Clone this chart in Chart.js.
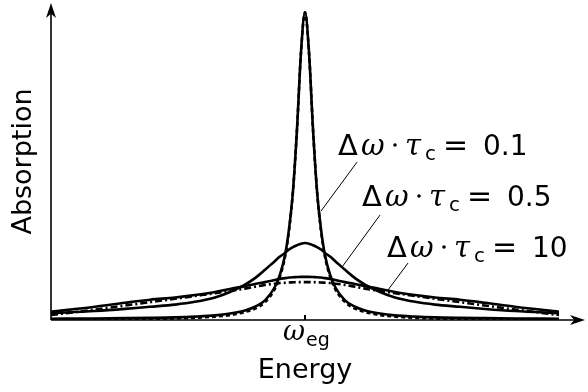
<!DOCTYPE html>
<html lang="en">
<head>
<meta charset="UTF-8">
<title>Absorption line shapes</title>
<script src="https://cdn.jsdelivr.net/npm/chart.js"></script>
<style>
  html, body { margin: 0; padding: 0; background: #fff; }
  canvas { display: block; }
</style>
</head>
<body>
<canvas id="lineshape" width="588" height="392"></canvas>
<script>
// energy offset from the resonance (arbitrary units)
const energy = [-2.54, -2.1, -1.8, -1.55, -1.3, -1.1, -0.9, -0.75, -0.6, -0.5, -0.4, -0.3, -0.25, -0.2, -0.16, -0.12, -0.08, -0.04,
  0, 0.04, 0.08, 0.12, 0.16, 0.2, 0.25, 0.3, 0.4, 0.5, 0.6, 0.75, 0.9, 1.1, 1.3, 1.55, 1.8, 2.1, 2.54];

// full line shapes for the three values of the product
const narrow = [0.4, 0.5, 0.6, 0.7, 0.85, 1.1, 1.5, 2.1, 3.1, 4.3, 6.4, 10.8, 14.8, 21, 29.5, 42, 62, 87,
  100, 87, 62, 42, 29.5, 21, 14.8, 10.8, 6.4, 4.3, 3.1, 2.1, 1.5, 1.1, 0.85, 0.7, 0.6, 0.5, 0.4];
const medium = [2.2, 2.9, 3.6, 4.3, 5.0, 5.9, 7.3, 9.1, 11.5, 13.6, 16.3, 19.2, 20.6, 21.8, 22.9, 23.7, 24.3, 24.8,
  25, 24.8, 24.3, 23.7, 22.9, 21.8, 20.6, 19.2, 16.3, 13.6, 11.5, 9.1, 7.3, 5.9, 5.0, 4.3, 3.6, 2.9, 2.2];
const broad = [2.7, 4.3, 5.6, 6.6, 7.3, 8.1, 9.1, 10.1, 11.0, 11.7, 12.3, 13.0, 13.35, 13.6, 13.8, 13.9, 13.95, 14.0,
  14.0, 14.0, 13.95, 13.9, 13.8, 13.6, 13.35, 13.0, 12.3, 11.7, 11.0, 10.1, 9.1, 8.1, 7.3, 6.6, 5.6, 4.3, 2.7];

// limiting forms: Lorentzian (dashed) and Gaussian (dash-dot)
const lorentz = [0.15, 0.2, 0.25, 0.35, 0.5, 0.7, 1.1, 1.6, 2.6, 3.7, 5.8, 10.2, 14.2, 20.5, 29, 42, 62, 87,
  100, 87, 62, 42, 29, 20.5, 14.2, 10.2, 5.8, 3.7, 2.6, 1.6, 1.1, 0.7, 0.5, 0.35, 0.25, 0.2, 0.15];
const gauss = [1.6, 3.4, 4.7, 5.8, 6.9, 7.8, 8.7, 9.4, 10.2, 10.8, 11.4, 11.8, 12.0, 12.1, 12.2, 12.25, 12.3, 12.3,
  12.3, 12.3, 12.3, 12.25, 12.2, 12.1, 12.0, 11.8, 11.4, 10.8, 10.2, 9.4, 8.7, 7.8, 6.9, 5.8, 4.7, 3.4, 1.6];

const products = ['0.1', '0.5', '10'];
// leader lines: [label end, point on curve] in data units
const leaders = [
  [[0.52, 51.3], [0.16, 35.4]],
  [[0.75, 34.1], [0.37, 17.2]],
  [[1.03, 18.5], [0.83, 9.75]]
];

const pts = ys => energy.map((x, i) => ({ x: x, y: ys[i] }));

function series(ys, dash, order) {
  return {
    data: pts(ys),
    borderColor: '#000',
    borderWidth: 2.6,
    borderDash: dash,
    pointRadius: 0,
    cubicInterpolationMode: 'monotone',
    fill: false,
    order: order
  };
}

const SANS = '"DejaVu Sans", sans-serif';
const SERIF = '"DejaVu Serif", serif';

function arrow(ctx, x, y, dir) {
  // stealth-style arrow head pointing in dir (unit vector)
  const [dx, dy] = dir;
  const px = -dy, py = dx;
  const len = 15, half = 5;
  ctx.beginPath();
  ctx.moveTo(x, y);
  ctx.lineTo(x - dx * len + px * half, y - dy * len + py * half);
  ctx.lineTo(x - dx * len * 0.72, y - dy * len * 0.72);
  ctx.lineTo(x - dx * len - px * half, y - dy * len - py * half);
  ctx.closePath();
  ctx.fill();
}

function drawLabel(ctx, x, y, value) {
  ctx.textBaseline = 'alphabetic';
  ctx.textAlign = 'left';
  ctx.font = '29px ' + SANS;
  ctx.fillText('\u0394', x, y);
  ctx.font = 'italic 29px ' + SERIF;
  ctx.fillText('\u03c9', x + 23, y);
  // centre dot
  ctx.beginPath();
  ctx.arc(x + 57, y - 10, 1.8, 0, Math.PI * 2);
  ctx.fill();
  ctx.font = 'italic 29px ' + SERIF;
  ctx.fillText('\u03c4', x + 67, y);
  ctx.font = '20px ' + SANS;
  ctx.fillText('c', x + 87, y + 5);
  ctx.font = '30px ' + SANS;
  ctx.fillText('=', x + 105, y);
  ctx.font = '28px ' + SANS;
  ctx.fillText(value, x + 145, y);
}

const decorations = {
  id: 'decorations',
  afterDraw(chart) {
    const { ctx, chartArea: a, scales } = chart;
    const xs = scales.x, ys = scales.y;
    const x0 = xs.getPixelForValue(energy[0]);
    const y0 = ys.getPixelForValue(0);
    ctx.save();
    ctx.strokeStyle = '#000';
    ctx.fillStyle = '#000';

    // axes with arrow heads
    ctx.lineWidth = 1.6;
    ctx.beginPath();
    ctx.moveTo(x0, y0);
    ctx.lineTo(a.right - 6, y0);
    ctx.moveTo(x0, y0);
    ctx.lineTo(x0, a.top + 6);
    ctx.stroke();
    arrow(ctx, a.right, y0, [1, 0]);
    arrow(ctx, x0, a.top, [0, -1]);

    // tick at the resonance
    const xc = xs.getPixelForValue(0);
    ctx.lineWidth = 2;
    ctx.beginPath();
    ctx.moveTo(xc, y0);
    ctx.lineTo(xc, y0 - 5);
    ctx.stroke();

    // leader lines
    ctx.lineWidth = 1;
    leaders.forEach(([p, q]) => {
      ctx.beginPath();
      ctx.moveTo(xs.getPixelForValue(p[0]), ys.getPixelForValue(p[1]));
      ctx.lineTo(xs.getPixelForValue(q[0]), ys.getPixelForValue(q[1]));
      ctx.stroke();
    });

    // curve labels
    drawLabel(ctx, 338, 155, products[0]);
    drawLabel(ctx, 362, 206, products[1]);
    drawLabel(ctx, 387, 257, products[2]);

    // resonance tick label
    ctx.textAlign = 'left';
    ctx.font = 'italic 27px ' + SERIF;
    ctx.fillText('\u03c9', xc - 22, y0 + 20);
    ctx.font = '19px ' + SANS;
    ctx.fillText('eg', xc + 1, y0 + 26);

    // axis titles
    ctx.font = '27px ' + SANS;
    ctx.textAlign = 'center';
    ctx.fillText('Energy', xc, 378);
    ctx.translate(31, (a.top + y0) / 2);
    ctx.rotate(-Math.PI / 2);
    ctx.fillText('Absorption', 0, 0);
    ctx.restore();
  }
};

new Chart(document.getElementById('lineshape').getContext('2d'), {
  type: 'line',
  data: {
    datasets: [
      series(lorentz, [4, 3], 0),
      series(gauss, [7, 3, 2, 3], 1),
      series(narrow, [], 2),
      series(medium, [], 3),
      series(broad, [], 4)
    ]
  },
  options: {
    responsive: false,
    animation: false,
    layout: { padding: { left: 51, right: 3, top: 3, bottom: 72 } },
    plugins: { legend: { display: false }, tooltip: { enabled: false } },
    scales: {
      x: { type: 'linear', min: -2.54, max: 2.8, display: false },
      y: { min: 0, max: 103, display: false }
    }
  },
  plugins: [decorations]
});
</script>
</body>
</html>
